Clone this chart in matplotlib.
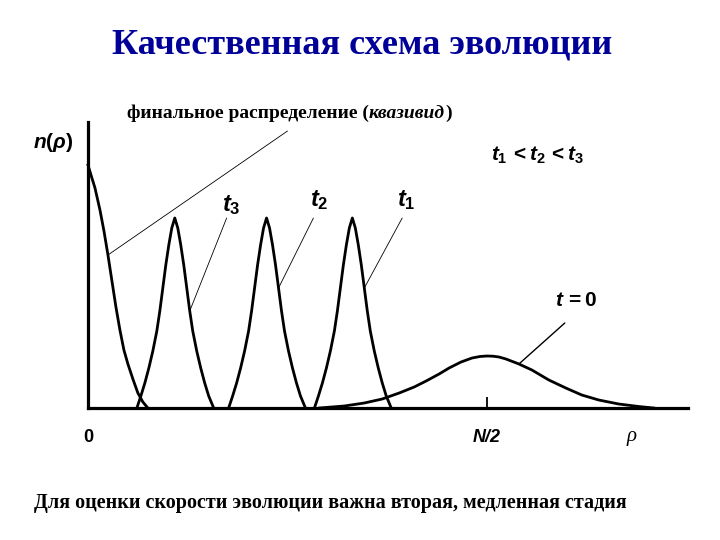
import matplotlib
matplotlib.use("Agg")
import matplotlib.pyplot as plt

plt.rcParams["mathtext.fontset"] = "custom"
plt.rcParams["mathtext.rm"] = "Liberation Sans:bold"
plt.rcParams["mathtext.bf"] = "Liberation Sans:bold"
plt.rcParams["mathtext.it"] = "Liberation Sans:italic:bold"

# rho in units where N/2 = 400, n in arbitrary units
final_rho = [0, 3, 7, 12, 16, 20, 24, 28, 32, 36, 40, 45, 50, 55, 60]
final_n = [243, 233, 220, 198, 177, 153, 127, 101, 78, 58, 44, 29, 15, 6, 0]

peak_n = [0, 12, 25, 40, 57, 77, 97, 120, 143, 163, 180, 190,
          180, 163, 143, 120, 97, 77, 57, 40, 25, 12, 0]
t3_rho = [49, 53, 57, 61, 65, 69, 72, 75, 78, 81, 84, 87,
          90, 93, 96, 99, 102, 105, 109, 113, 117, 121, 126]
t2_rho = [141, 145, 149, 153, 157, 161, 164, 167, 170, 173, 176, 179,
          182, 185, 188, 191, 194, 197, 201, 205, 209, 213, 218]
t1_rho = [227, 231, 235, 239, 243, 247, 250, 253, 256, 259, 262, 265,
          268, 271, 274, 277, 280, 283, 287, 291, 295, 299, 304]

t0_rho = [232, 257, 277, 295, 312, 327, 339, 352, 362, 374, 385, 393, 400,
          406, 412, 419, 432, 445, 462, 479, 495, 512, 532, 552, 567]
t0_n = [0, 2, 5, 9, 15, 21, 27, 34, 40, 46, 50, 51.5, 52,
        51.8, 51, 49, 44, 38, 28, 20, 13, 8, 4, 1.5, 0]

half_N = 400

fig = plt.figure(figsize=(7.2, 5.4), dpi=100)
ax = fig.add_axes([88 / 720, 132 / 540, 600 / 720, 286 / 540])
ax.set_xlim(0, 601.5)
ax.set_ylim(0, 286)

style = dict(color="black", lw=2.0, solid_joinstyle="round")
ax.plot(final_rho, final_n, clip_on=False, **style)
ax.plot(t3_rho, peak_n, **style)
ax.plot(t2_rho, peak_n, **style)
ax.plot(t1_rho, peak_n, **style)
ax.plot(t0_rho, t0_n, **style)

for s in ["top", "right"]:
    ax.spines[s].set_visible(False)
for s in ["left", "bottom"]:
    ax.spines[s].set_linewidth(2.3)
ax.set_yticks([])
ax.set_xticks([half_N])
ax.tick_params(axis="x", direction="in", length=8, width=1.3, labelbottom=False)

# leader lines
thin = dict(arrowstyle="-", lw=0.6, color="black", shrinkA=0, shrinkB=0)
ax.annotate("", xy=(final_rho[5], final_n[5]), xytext=(200, 277), arrowprops=thin, annotation_clip=False)
ax.annotate("", xy=(t3_rho[16], peak_n[16]), xytext=(139, 190), arrowprops=thin)
ax.annotate("", xy=(t2_rho[15], peak_n[15]), xytext=(226, 190), arrowprops=thin)
ax.annotate("", xy=(t1_rho[15], peak_n[15]), xytext=(315, 190), arrowprops=thin)
ax.annotate("", xy=(t0_rho[16], t0_n[16]), xytext=(478, 85), arrowprops=dict(thin, lw=1.0))


def px(x, y):
    return x / 720, 1 - y / 540


fig.text(*px(362, 45), "Качественная схема эволюции", ha="center", va="center",
         family="Liberation Serif", weight="bold", size=26, color="#000099")
fig.text(*px(330, 503), "Для оценки скорости эволюции важна вторая, медленная стадия",
         ha="center", va="center", family="Liberation Serif", weight="bold", size=14.5)

lab = fig.text(*px(127, 113), "финальное распределение (", ha="left", va="center",
               family="Liberation Serif", weight="bold", size=14)
lab2 = ax.annotate("квазивид", xy=(1, 0), xycoords=lab, ha="left", va="bottom",
                   family="Liberation Serif", weight="bold", style="italic", size=14)
ax.annotate(")", xy=(1, 0), xycoords=lab2, ha="left", va="bottom",
            family="Liberation Serif", weight="bold", size=14)

fig.text(*px(53, 142), r"$n(\rho)$", ha="center", va="center", size=15)
fig.text(*px(538, 155), r"$t_1 \/< t_2 \/< t_3$", ha="center", va="center", size=15)
fig.text(*px(222, 205), r"$t_3$", ha="left", va="center", size=17)
fig.text(*px(310, 200), r"$t_2$", ha="left", va="center", size=17)
fig.text(*px(397, 200), r"$t_1$", ha="left", va="center", size=17)
fig.text(*px(576, 300), r"$t \/= 0$", ha="center", va="center", size=15)

fig.text(*px(88, 437), "0", ha="center", va="center", family="Liberation Sans", weight="bold", size=13)
fig.text(*px(487, 437), "N/2", ha="center", va="center", family="Liberation Sans",
         weight="bold", style="italic", size=13)
fig.text(*px(632, 437), "ρ", ha="center", va="center", family="Liberation Serif", style="italic", size=15)

fig.savefig("out.png", dpi=100)
